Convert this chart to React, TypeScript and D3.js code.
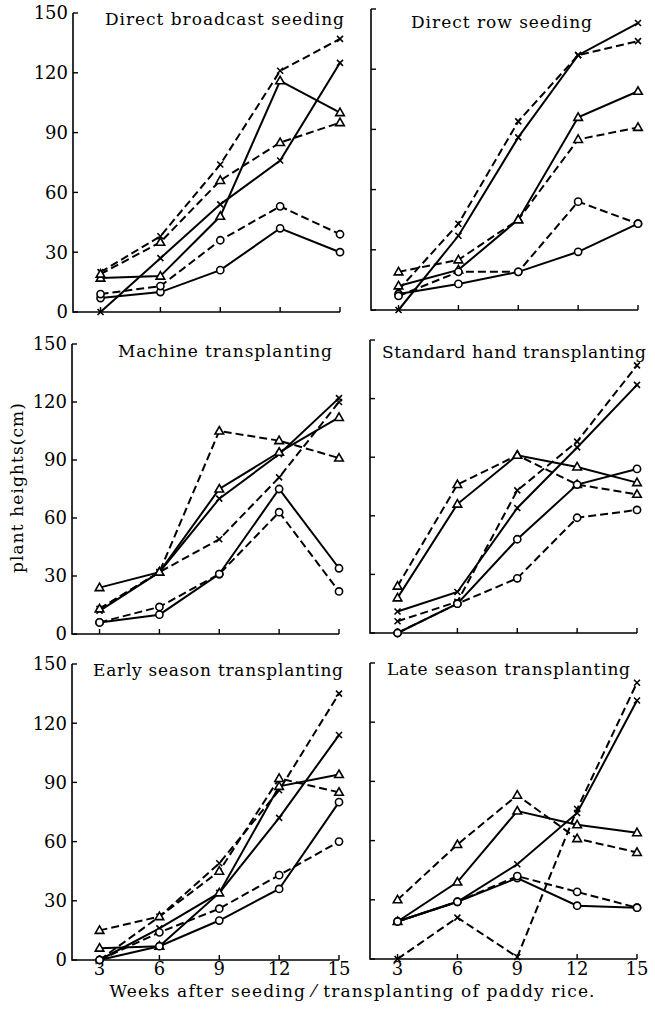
import React, { useRef, useEffect } from 'react';
import * as d3 from 'd3';

const weeks = [3, 6, 9, 12, 15];
const yTicks = [0, 30, 60, 90, 120, 150];

// series order in every panel: x solid, x dashed, triangle solid, triangle dashed, circle solid, circle dashed
const seriesKinds = [
  { marker: 'x', dashed: false },
  { marker: 'x', dashed: true },
  { marker: 'tri', dashed: false },
  { marker: 'tri', dashed: true },
  { marker: 'circle', dashed: false },
  { marker: 'circle', dashed: true },
];

const panelTitles = [
  'Direct broadcast seeding',
  'Direct row seeding',
  'Machine transplanting',
  'Standard hand transplanting',
  'Early season transplanting',
  'Late season transplanting',
];

const broadcastSeeding = [
  [0, 27, 54, 76, 125],
  [20, 38, 74, 121, 137],
  [17, 18, 48, 116, 100],
  [19, 35, 66, 85, 95],
  [7, 10, 21, 42, 30],
  [9, 13, 36, 53, 39],
];
const rowSeeding = [
  [0, 37, 86, 127, 143],
  [10, 43, 94, 127, 134],
  [12, 20, 45, 96, 109],
  [19, 25, 45, 85, 91],
  [8, 13, 19, 29, 43],
  [7, 19, 19, 54, 43],
];
const machineTransplanting = [
  [12, 32, 70, 93, 122],
  [13, 32, 49, 81, 120],
  [24, 32, 75, 94, 112],
  [13, 32, 105, 100, 91],
  [6, 10, 31, 75, 34],
  [6, 14, 31, 63, 22],
];
const handTransplanting = [
  [11, 21, 64, 95, 127],
  [6, 16, 73, 98, 137],
  [18, 66, 91, 85, 77],
  [24, 76, 91, 76, 71],
  [0, 15, 48, 76, 84],
  [0, 15, 28, 59, 63],
];
const earlySeason = [
  [0, 16, 34, 72, 114],
  [0, 22, 49, 86, 135],
  [6, 7, 34, 88, 94],
  [15, 22, 45, 92, 85],
  [0, 7, 20, 36, 80],
  [0, 14, 26, 43, 60],
];
const lateSeason = [
  [19, 29, 48, 74, 131],
  [0, 21, 1, 76, 140],
  [19, 39, 75, 68, 64],
  [30, 58, 83, 61, 54],
  [19, 29, 41, 27, 26],
  [19, 29, 42, 34, 26],
];

const panelData = [broadcastSeeding, rowSeeding, machineTransplanting, handTransplanting, earlySeason, lateSeason];

// placement of each panel on the page (tw = title width)
const panels = [
  { x: 73, top: 13, bottom: 312, tx: 105, ty: 25, tw: 239 },
  { x: 371, top: 9, bottom: 310, tx: 411, ty: 28, tw: 181 },
  { x: 72, top: 344, bottom: 634, tx: 118, ty: 357, tw: 214 },
  { x: 370, top: 340, bottom: 633, tx: 382, ty: 358, tw: 264 },
  { x: 72, top: 664, bottom: 960, tx: 93, ty: 676, tw: 250 },
  { x: 370, top: 663, bottom: 959, tx: 387, ty: 675, tw: 243 },
];

const serif = '"DejaVu Serif", serif';

const App = () => {
  const svgRef = useRef<SVGSVGElement>(null);

  useEffect(() => {
    const svg = d3.select(svgRef.current);
    svg.selectAll('*').remove();

    panels.forEach((p, pi) => {
      const x = d3.scaleLinear().domain([1.62, 15]).range([p.x, p.x + 267]);
      const y = d3.scaleLinear().domain([0, 150]).range([p.bottom, p.top]);
      const g = svg.append('g');
      const isLeft = pi % 2 === 0;
      const isBottom = pi >= 4;

      // axes
      g.append('path')
        .attr('d', `M${p.x},${y(150)}V${y(0)}H${x(15)}`)
        .attr('fill', 'none')
        .attr('stroke', '#000')
        .attr('stroke-width', 1.6);

      yTicks.forEach(t => {
        g.append('line')
          .attr('x1', p.x).attr('x2', p.x + 5)
          .attr('y1', y(t)).attr('y2', y(t))
          .attr('stroke', '#000').attr('stroke-width', 1.4);
        if (isLeft) {
          g.append('text')
            .attr('x', p.x - 5)
            .attr('y', y(t))
            .attr('dy', '0.36em')
            .attr('text-anchor', 'end')
            .style('font-family', serif)
            .style('font-size', '18px')
            .text(t);
        }
      });

      weeks.forEach(w => {
        g.append('line')
          .attr('x1', x(w)).attr('x2', x(w))
          .attr('y1', y(0)).attr('y2', y(0) - 5)
          .attr('stroke', '#000').attr('stroke-width', 1.4);
        if (isBottom) {
          g.append('text')
            .attr('x', x(w))
            .attr('y', 975)
            .attr('text-anchor', 'middle')
            .style('font-family', serif)
            .style('font-size', '18px')
            .text(w);
        }
      });

      g.append('text')
        .attr('x', p.tx)
        .attr('y', p.ty)
        .attr('textLength', p.tw)
        .attr('lengthAdjust', 'spacing')
        .style('font-family', serif)
        .style('font-size', '17px')
        .text(panelTitles[pi]);

      const line = d3.line<number>()
        .x((d, i) => x(weeks[i]))
        .y(d => y(d));

      const rows = panelData[pi];
      rows.forEach((vals, si) => {
        g.append('path')
          .attr('d', line(vals))
          .attr('fill', 'none')
          .attr('stroke', '#000')
          .attr('stroke-width', 2)
          .attr('stroke-dasharray', seriesKinds[si].dashed ? '8,4' : null);
      });

      rows.forEach((vals, si) => {
        const kind = seriesKinds[si].marker;
        vals.forEach((v, i) => {
          const cx = x(weeks[i]);
          const cy = y(v);
          if (kind === 'circle') {
            g.append('circle')
              .attr('cx', cx).attr('cy', cy).attr('r', 3.6)
              .attr('fill', '#fff').attr('stroke', '#000').attr('stroke-width', 1.6);
          } else if (kind === 'tri') {
            g.append('path')
              .attr('d', `M${cx},${cy - 4.5}L${cx + 4.3},${cy + 3}L${cx - 4.3},${cy + 3}Z`)
              .attr('fill', '#fff').attr('stroke', '#000').attr('stroke-width', 1.6);
          } else {
            g.append('path')
              .attr('d', `M${cx - 3},${cy - 3}L${cx + 3},${cy + 3}M${cx - 3},${cy + 3}L${cx + 3},${cy - 3}`)
              .attr('stroke', '#000').attr('stroke-width', 1.6);
          }
        });
      });
    });

    svg.append('text')
      .attr('transform', 'translate(23,488) rotate(-90)')
      .attr('text-anchor', 'middle')
      .attr('textLength', 170)
      .attr('lengthAdjust', 'spacing')
      .style('font-family', serif)
      .style('font-size', '17px')
      .text('plant heights(cm)');

    svg.append('text')
      .attr('x', 352)
      .attr('y', 997)
      .attr('text-anchor', 'middle')
      .attr('textLength', 485)
      .attr('lengthAdjust', 'spacing')
      .style('font-family', serif)
      .style('font-size', '17px')
      .text('Weeks after seeding ⁄ transplanting of paddy rice.');
  }, []);

  return (
    <svg
      ref={svgRef}
      width={655}
      height={1016}
      style={{ position: 'absolute', left: 0, top: 0, background: '#fff' }}
    />
  );
};

export default App;
